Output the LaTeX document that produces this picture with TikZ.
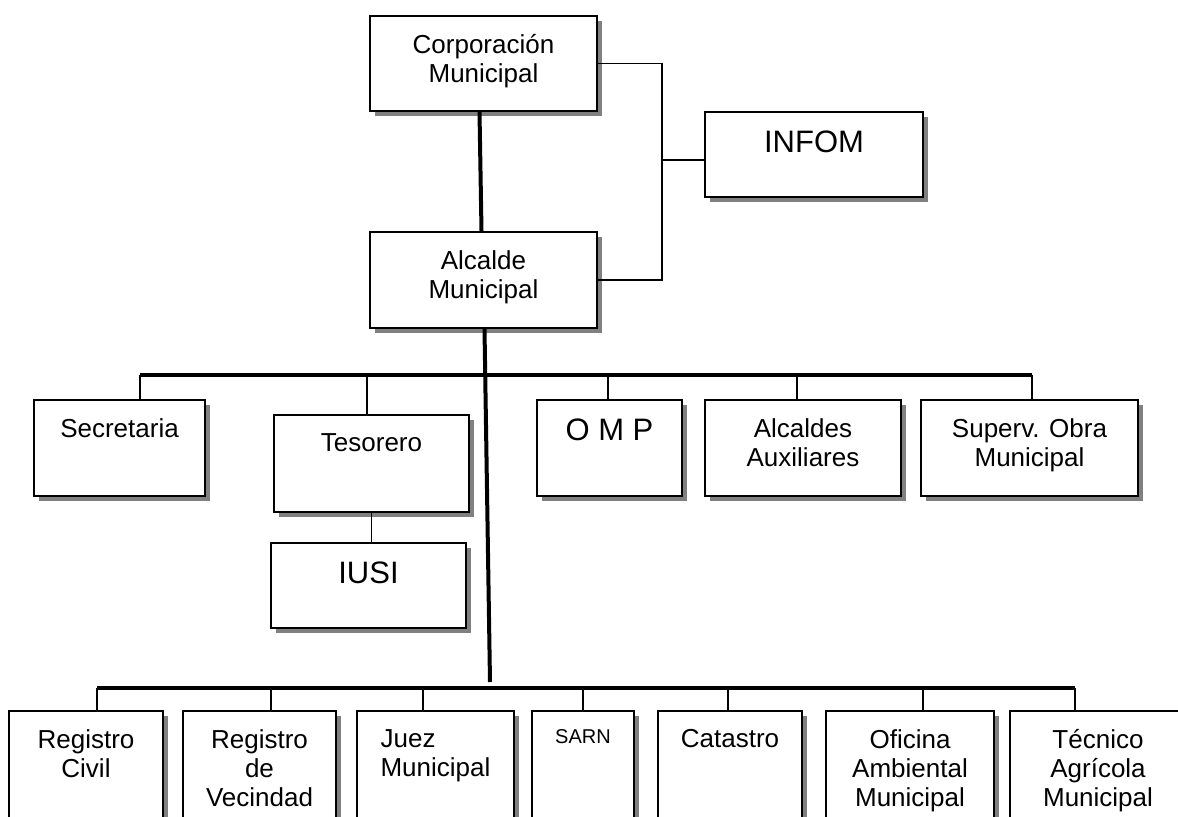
\documentclass[tikz,border=0pt]{standalone}
\usepackage{fontspec}
\setmainfont{Liberation Sans}
\usepackage{tikz}
\usetikzlibrary{calc,fit,shadows}
\tikzset{
	super thick/.style={line width=2pt}
}
\tikzstyle{orgbox}=[draw, line width=1pt, fill=white, inner sep=0pt, drop shadow={shadow xshift=2.5pt, shadow yshift=-2.5pt, fill=black!50, opacity=1}]
\tikzstyle{boxtext}=[anchor=north, inner sep=0pt, align=center, font=\fontsize{13}{14.6}\selectfont]
\tikzstyle{bigtext}=[font=\fontsize{15.5}{18}\selectfont]
\tikzstyle{smalltext}=[font=\fontsize{10}{12}\selectfont]
\tikzstyle{linkline}=[line width=0.9pt]
\tikzstyle{busline}=[line width=1.7pt]
\newcommand{\orgBox}[7][]{
	\node[orgbox, fit={(#3,#4) (#5,#6)}] (#2) {};
	\node[boxtext, #1] at ($(#2.north)+(0,19)$) {#7};
}

\begin{document}
\begin{tikzpicture}[x=0.5pt, y=-0.5pt]
	\useasboundingbox (0,0) rectangle (1178,817);
	\clip (0,0) rectangle (1178,817);
	\orgBox{corp}{370}{16}{597}{111}{Corporación\\Municipal}
	\orgBox{alc}{370}{232}{597}{328}{Alcalde\\Municipal}
	\orgBox[bigtext]{infom}{705}{112}{923}{197}{INFOM}
	\orgBox{sec}{34}{400}{205}{496}{Secretaria}
	\orgBox{tes}{274}{415}{469}{512}{Tesorero}
	\orgBox[bigtext]{iusi}{271}{543}{466}{628}{IUSI}
	\orgBox[bigtext]{omp}{537}{400}{682}{496}{O M P}
	\orgBox{aux}{705}{400}{901}{496}{Alcaldes\\Auxiliares}
	\orgBox{sup}{921}{400}{1138}{496}{Superv. Obra\\Municipal}
	\orgBox{rc}{9}{711}{163}{870}{Registro\\Civil}
	\orgBox{rv}{183}{711}{336}{870}{Registro\\de\\Vecindad}
	\orgBox[align=left]{juez}{357}{711}{514}{870}{Juez\\Municipal}
	\orgBox[smalltext]{sarn}{532}{711}{634}{870}{SARN}
	\orgBox{cat}{658}{711}{802}{870}{Catastro}
	\orgBox{ofi}{826}{711}{994}{870}{Oficina\\Ambiental\\Municipal}
	\orgBox{tec}{1010}{711}{1186}{870}{Técnico\\Agrícola\\Municipal}
	\coordinate (junc) at (662,160);
	\draw[linkline] (corp.east) -| (junc) |- (alc.east);
	\draw[linkline] (junc) -- (junc -| infom.west);
	\draw[super thick] ([xshift=-2pt]corp.south) -- ([xshift=-1pt]alc.north);
	\coordinate (low) at (490,682);
	\draw[super thick] ([xshift=0.5pt]alc.south) -- (low);
	\coordinate (busL) at (140,375);
	\coordinate (busR) at (1032,375);
	\draw[busline] (busL) -- (busR);
	\foreach \n/\x in {sec/140,tes/367,omp/608,aux/797,sup/1032}{
		\coordinate (m\n) at (\x,375);
		\draw[linkline] (m\n) -- (m\n |- \n.north);
	}
	\draw[linkline] (tes.south) -- (tes.south |- iusi.north);
	\coordinate (lowL) at (97,688);
	\coordinate (lowR) at (1075,688);
	\draw[busline] (lowL) -- (lowR);
	\foreach \n/\x in {rc/97,rv/271,juez/423,sarn/583,cat/728,ofi/923,tec/1075}{
		\coordinate (m\n) at (\x,688);
		\draw[linkline] (m\n) -- (m\n |- \n.north);
	}
\end{tikzpicture}
\end{document}
